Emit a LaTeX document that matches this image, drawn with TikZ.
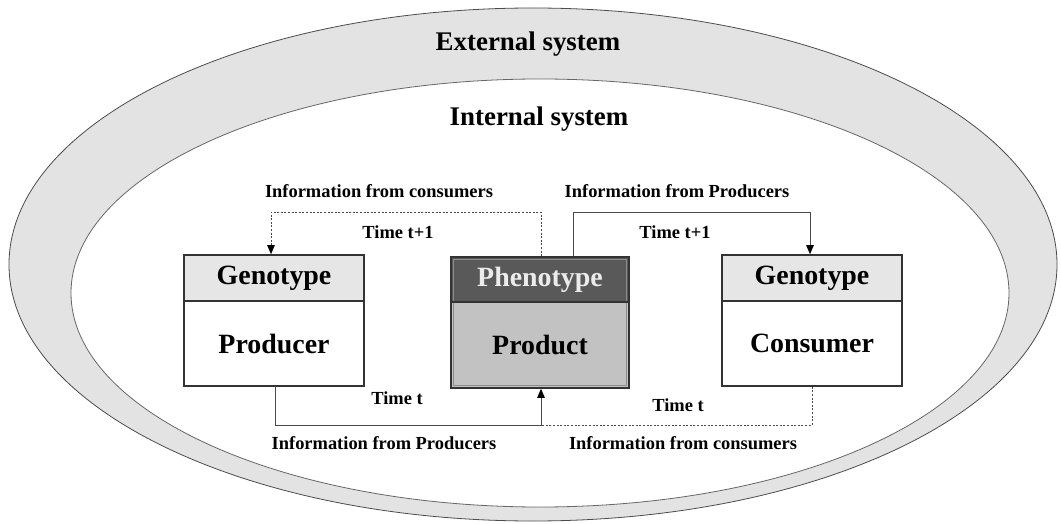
\documentclass[tikz,border=0pt]{standalone}
\usepackage{fontspec}
\setmainfont{Liberation Serif}
\usetikzlibrary{arrows.meta}

\definecolor{ringgray}{HTML}{E3E3E3}
\definecolor{headlight}{HTML}{E6E6E6}
\definecolor{headdark}{HTML}{595959}
\definecolor{bodygray}{HTML}{C2C2C2}
\definecolor{edgegray}{HTML}{333333}
\definecolor{linegray}{HTML}{4A4A4A}

\tikzset{
  lbl/.style={font=\bfseries\fontsize{18.5}{21}\selectfont, inner sep=0pt},
  title/.style={font=\bfseries\fontsize{27}{30}\selectfont, inner sep=0pt},
  headbox/.style={draw=edgegray, line width=1.6bp, minimum width=180bp, minimum height=46bp,
    inner sep=0pt, font=\bfseries\fontsize{28}{30}\selectfont},
  bodybox/.style={draw=edgegray, line width=1.6bp, minimum width=180bp, minimum height=85bp,
    inner sep=0pt, font=\bfseries\fontsize{28}{30}\selectfont},
  link/.style={draw=linegray, line width=0.9bp},
  dlink/.style={link, dash pattern=on 2bp off 1.6bp},
  tip/.style={-{Triangle[length=9bp,width=7.5bp,color=black]}}
}

\begin{document}
\begin{tikzpicture}[x=1bp, y=-1bp]
\useasboundingbox (0,0) rectangle (1061,524);

% two nested system ellipses
\filldraw[fill=ringgray, draw=black!70, line width=0.8bp]
  (533,264.5) ellipse [x radius=524bp, y radius=256.5bp];
\filldraw[fill=white, draw=black!60, line width=0.8bp]
  (540,293) ellipse [x radius=469bp, y radius=214bp];

\node[title] (ext) at (528,44) {External system};
\node[title] (int) at (539,119) {Internal system};

% producer
\node[headbox, fill=headlight] (gp) at (274,278) {Genotype};
\node[bodybox, fill=white] (pr) at (274,343.5) {Producer};

% product
\node[bodybox, fill=bodygray, minimum width=178bp, minimum height=86bp] (pd) at (540,345) {Product};
\node[headbox, fill=headdark, text=white!92!black, minimum width=178bp, minimum height=45bp] (ph) at (540,279.5) {Phenotype};
\draw[draw=black!45, line width=0.7bp] (453.5,259.5) rectangle (626.5,385.5);
\draw[draw=edgegray, line width=1.8bp] (451,257) rectangle (629,388);
\draw[draw=edgegray, line width=1.6bp] (451,302) -- (629,302);

% consumer
\node[headbox, fill=headlight] (gc) at (812,278) {Genotype};
\node[bodybox, fill=white] (cs) at (812,343.5) {Consumer};

% bend points of the information loops
\coordinate (tl) at (541,212);
\coordinate (tll) at (271,212);
\coordinate (tr) at (573,212);
\coordinate (trr) at (810,212);
\coordinate (bl) at (275,425);
\coordinate (bm) at (541,425);
\coordinate (br) at (812,425);

% time t+1 loops
\draw[dlink, tip] (ph.north -| tl) -- (tl) -- (tll) -- (gp.north -| tll);
\draw[link, tip] (ph.north -| tr) -- (tr) -- (trr) -- (gc.north -| trr);

% time t loops
\draw[dlink] (cs.south -| br) -- (br) -- (bm);
\draw[link, tip] (pr.south -| bl) -- (bl) -- (bm) -- (pd.south -| bm);

% labels
\node[lbl] (l1) at (379,191) {Information from consumers};
\node[lbl] (l2) at (398,232) {Time t+1};
\node[lbl] (l3) at (677,191) {Information from Producers};
\node[lbl] (l4) at (675,232) {Time t+1};
\node[lbl] (l5) at (397,398) {Time t};
\node[lbl] (l6) at (384,443) {Information from Producers};
\node[lbl] (l7) at (678,405) {Time t};
\node[lbl] (l8) at (683,443) {Information from consumers};
\end{tikzpicture}
\end{document}
